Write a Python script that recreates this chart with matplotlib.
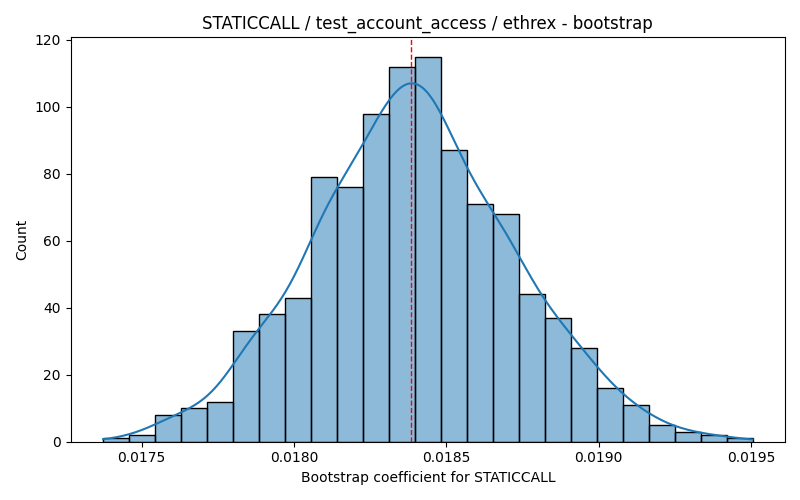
import matplotlib
matplotlib.use("Agg")
import matplotlib.pyplot as plt
from matplotlib.colors import to_rgba
import numpy as np

# histogram
bin_start = 0.017374
bin_end = 0.019505
counts = [1, 2, 8, 10, 12, 33, 38, 43, 79, 76, 98, 112, 115,
          87, 71, 68, 44, 37, 28, 16, 11, 5, 3, 2, 1]
mean_value = 0.018384

edges = np.linspace(bin_start, bin_end, len(counts) + 1)
centers = (edges[:-1] + edges[1:]) / 2
width = edges[1] - edges[0]
w = np.array(counts, dtype=float)

fig, ax = plt.subplots(figsize=(8, 5), dpi=100)
ax.bar(edges[:-1], counts, width=width, align="edge",
       facecolor=to_rgba("C0", 0.5), edgecolor="black", linewidth=1)

# gaussian kde (scott) on the binned values, scaled to counts
n = w.sum()
mu = np.sum(w * centers) / n
sd = np.sqrt(np.sum(w * (centers - mu) ** 2) / n)
bw = sd * n ** (-1 / 5)
xs = np.linspace(edges[0], edges[-1], 300)
dens = np.sum(w[:, None] * np.exp(-0.5 * ((xs[None, :] - centers[:, None]) / bw) ** 2), axis=0)
dens = dens / (n * bw * np.sqrt(2 * np.pi))
ax.plot(xs, dens * n * width, color="C0", linewidth=1.5)

ax.axvline(mean_value, color="red", linestyle="--", linewidth=1)

ax.set_title("STATICCALL / test_account_access / ethrex - bootstrap")
ax.set_xlabel("Bootstrap coefficient for STATICCALL")
ax.set_ylabel("Count")
plt.tight_layout()
plt.savefig("out.png")
